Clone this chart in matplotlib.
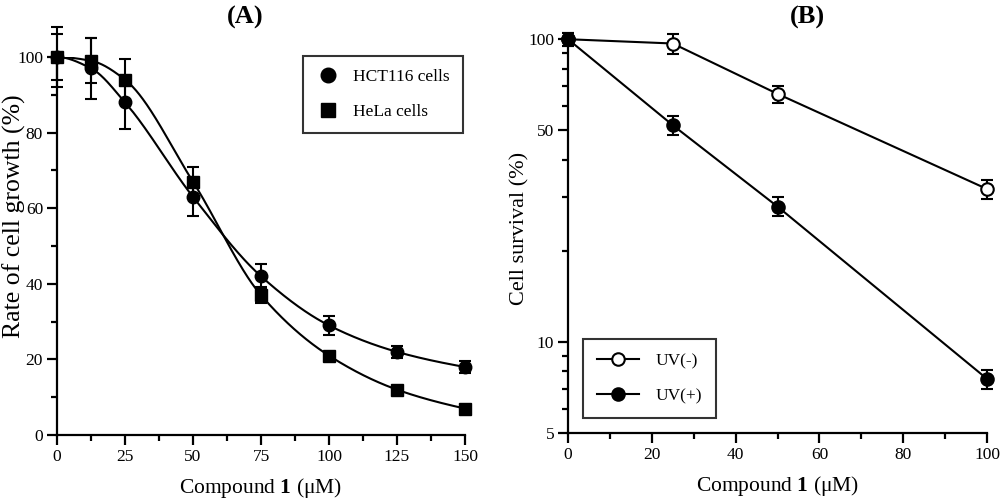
import numpy as np
import matplotlib
matplotlib.use("Agg")
import matplotlib.pyplot as plt
from matplotlib.lines import Line2D
from matplotlib.ticker import FixedLocator, FixedFormatter, MultipleLocator, NullFormatter

plt.rcParams['font.family'] = ['Liberation Serif', 'DejaVu Serif']
plt.rcParams['mathtext.fontset'] = 'custom'
plt.rcParams['mathtext.rm'] = 'Liberation Serif'
plt.rcParams['mathtext.bf'] = 'Liberation Serif:bold'

# Panel A data
conc_a = [0, 12.5, 25, 50, 75, 100, 125, 150]
hct116 = [100, 97, 88, 63, 42, 29, 22, 18]
hct116_err = [8, 8, 7, 5, 3.2, 2.5, 1.6, 1.5]
hela = [100, 99, 94, 67, 37, 21, 12, 7]
hela_err = [6, 6, 5.6, 4, 2.2, 1, 1, 0.5]

# Panel B data
conc_b = [0, 25, 50, 100]
uv_minus = [100, 96.8, 66, 32]
uv_minus_err = [5, 7.2, 4.3, 2.3]
uv_plus = [100, 52, 28, 7.55]
uv_plus_err = [5, 3.8, 2, 0.55]


def pchip(x, y, xs):
    # monotone cubic through the points (smooth curve like the original)
    x = np.asarray(x, float)
    y = np.asarray(y, float)
    hk = np.diff(x)
    dk = np.diff(y) / hk
    m = np.zeros_like(y)
    for i in range(1, len(x) - 1):
        if dk[i - 1] * dk[i] > 0:
            w1 = 2 * hk[i] + hk[i - 1]
            w2 = hk[i] + 2 * hk[i - 1]
            m[i] = (w1 + w2) / (w1 / dk[i - 1] + w2 / dk[i])
    m[0] = 0.0
    m[-1] = dk[-1] * 0.8
    idx = np.clip(np.searchsorted(x, xs) - 1, 0, len(x) - 2)
    t = (xs - x[idx]) / hk[idx]
    h00 = 2 * t**3 - 3 * t**2 + 1
    h10 = t**3 - 2 * t**2 + t
    h01 = -2 * t**3 + 3 * t**2
    h11 = t**3 - t**2
    return (h00 * y[idx] + h10 * hk[idx] * m[idx] + h01 * y[idx + 1]
            + h11 * hk[idx] * m[idx + 1])


fig = plt.figure(figsize=(10, 5.01), dpi=100)
ax1 = fig.add_axes([0.057, 0.1317, 0.408, 0.7545])
ax2 = fig.add_axes([0.568, 0.1357, 0.419, 0.786])

lw = 1.5
ms = 9
xs = np.linspace(0, 150, 600)
handles_a = []
for y, err, mk, lab in [(hct116, hct116_err, 'o', 'HCT116 cells'),
                        (hela, hela_err, 's', 'HeLa cells')]:
    ax1.plot(xs, pchip(conc_a, y, xs), color='black', lw=lw)
    ax1.errorbar(conc_a, y, yerr=err, fmt=mk, color='black', ms=ms,
                 elinewidth=lw, capsize=4.5, capthick=lw, clip_on=False,
                 zorder=3)
    handles_a.append(Line2D([], [], ls='none', marker=mk, color='black',
                            ms=ms + 1.5, label=lab))

ax1.set_xlim(0, 150)
ax1.set_ylim(0, 100)
ax1.xaxis.set_major_locator(MultipleLocator(25))
ax1.xaxis.set_minor_locator(MultipleLocator(12.5))
ax1.yaxis.set_major_locator(MultipleLocator(20))
ax1.yaxis.set_minor_locator(MultipleLocator(10))
ax1.set_xlabel(r"Compound $\mathbf{1}$ (μM)", fontsize=15.5, labelpad=8)
ax1.set_ylabel("Rate of cell growth (%)", fontsize=18.5)
ax1.yaxis.set_label_coords(-0.075, 0.58)
leg1 = ax1.legend(handles=handles_a, loc='upper right',
                  bbox_to_anchor=(0.995, 1.003), fontsize=12.5,
                  frameon=True, fancybox=False, edgecolor='black',
                  borderpad=0.75, labelspacing=1.1, handlelength=1.4,
                  handletextpad=0.75, borderaxespad=0)
leg1.get_frame().set_linewidth(1.5)

handles_b = []
for y, err, face, lab in [(uv_minus, uv_minus_err, 'white', 'UV(-)'),
                          (uv_plus, uv_plus_err, 'black', 'UV(+)')]:
    ax2.errorbar(conc_b, y, yerr=err, fmt='-o', color='black', mfc=face,
                 mec='black', mew=1.5, ms=ms, lw=lw, elinewidth=lw,
                 capsize=4.5, capthick=lw, clip_on=False, zorder=3)
    handles_b.append(Line2D([], [], ls='-', lw=lw, marker='o', color='black',
                            mfc=face, mec='black', mew=1.5, ms=ms, label=lab))

ax2.set_yscale('log')
ax2.set_xlim(0, 100)
ax2.set_ylim(5, 100)
ax2.yaxis.set_major_locator(FixedLocator([5, 10, 50, 100]))
ax2.yaxis.set_minor_locator(FixedLocator([6, 7, 8, 9, 20, 30, 40, 60, 70, 80, 90]))
ax2.yaxis.set_major_formatter(FixedFormatter(['5', '10', '50', '100']))
ax2.yaxis.set_minor_formatter(NullFormatter())
ax2.xaxis.set_major_locator(MultipleLocator(20))
ax2.xaxis.set_minor_locator(MultipleLocator(10))
ax2.set_xlabel(r"Compound $\mathbf{1}$ (μM)", fontsize=15.5, labelpad=8)
ax2.set_ylabel("Cell survival (%)", fontsize=16)
ax2.yaxis.set_label_coords(-0.091, 0.52)
leg2 = ax2.legend(handles=handles_b, loc='lower left',
                  bbox_to_anchor=(0.036, 0.038), fontsize=12.5,
                  frameon=True, fancybox=False, edgecolor='black',
                  borderpad=0.8, labelspacing=1.1, handlelength=2.4,
                  handletextpad=1.0, borderaxespad=0)
leg2.get_frame().set_linewidth(1.5)

fig.text(0.245, 0.965, "(A)", fontsize=19, fontweight='bold',
         ha='center', va='center')
fig.text(0.807, 0.965, "(B)", fontsize=19, fontweight='bold',
         ha='center', va='center')

for ax in (ax1, ax2):
    for s in ('top', 'right'):
        ax.spines[s].set_visible(False)
    for s in ('left', 'bottom'):
        ax.spines[s].set_linewidth(1.6)
    ax.tick_params(which='major', direction='out', length=7, width=1.6,
                   labelsize=12.5, pad=3)
    ax.tick_params(which='minor', direction='out', length=4, width=1.6)

fig.savefig("out.png", dpi=100)
